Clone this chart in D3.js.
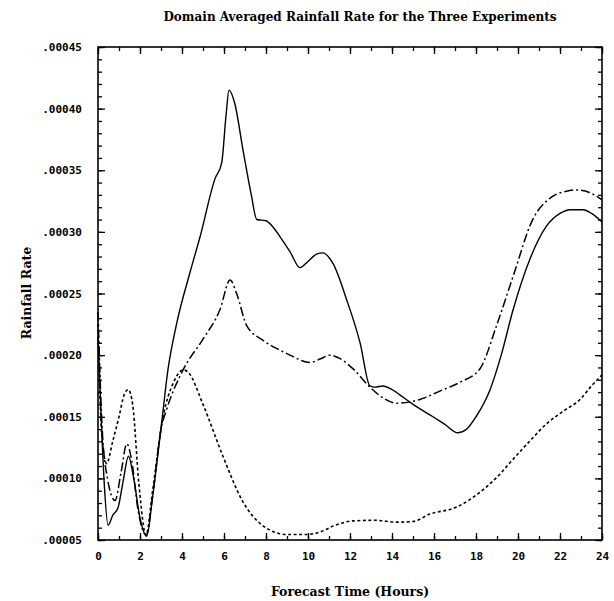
<!DOCTYPE html>
<html><head><meta charset="utf-8">
<script src="https://cdn.jsdelivr.net/npm/d3@7"></script>
<style>body{margin:0;background:#fff}</style>
</head><body>
<svg id="c" width="614" height="601"></svg>
<script>
const title = "Domain Averaged Rainfall Rate for the Three Experiments";
const xLabel = "Forecast Time (Hours)";
const yLabel = "Rainfall Rate";
const xTicks = [0,2,4,6,8,10,12,14,16,18,20,22,24];
const yTicks = [0.00005,0.0001,0.00015,0.0002,0.00025,0.0003,0.00035,0.0004,0.00045];
const yTickLabels = [".00005",".00010",".00015",".00020",".00025",".00030",".00035",".00040",".00045"];

const exp1Hours = [0,0.15,0.3,0.48,0.7,0.95,1.2,1.45,1.7,2.0,2.32,2.6,3.03,3.33,3.75,4.38,4.86,5.57,5.89,6.1,6.24,6.5,6.92,7.3,7.56,8.0,8.33,8.67,9.14,9.62,10.0,10.41,10.7,11.2,11.84,12.48,12.95,13.2,13.57,14.0,14.52,15.0,15.95,16.5,17.14,17.56,18.0,18.67,19.2,19.77,20.57,21.37,22.0,22.48,23.1,23.5,24];
const exp1Rate = [0.000215,0.000150,0.000095,0.000062,0.000070,0.000076,0.000098,0.000118,0.000100,0.000068,0.000053,0.000085,0.000145,0.000188,0.000226,0.000267,0.000296,0.000343,0.000356,0.000395,0.000415,0.000405,0.000365,0.000330,0.000310,0.000309,0.000304,0.000296,0.000284,0.000271,0.000276,0.000282,0.000283,0.000274,0.000245,0.000210,0.000175,0.000174,0.000175,0.000172,0.000166,0.000160,0.000150,0.000144,0.000137,0.000140,0.000150,0.000172,0.000200,0.000237,0.000278,0.000305,0.000315,0.000318,0.000318,0.000315,0.000308];

const exp2Hours = [0,0.2,0.45,0.81,1.1,1.37,1.6,1.9,2.29,2.6,3.0,3.27,4.05,5.0,5.81,6.29,6.6,7.08,7.86,8.67,9.14,10.1,10.6,11.05,11.43,12.2,12.95,13.6,14.22,15.33,16.3,17.24,18.19,18.98,19.77,20.7,21.5,22.3,22.8,23.4,24];
const exp2Rate = [0.000235,0.000140,0.000100,0.000082,0.000105,0.000128,0.000115,0.000075,0.000054,0.000085,0.000140,0.000156,0.000188,0.000213,0.000237,0.000261,0.000250,0.000224,0.000212,0.000204,0.000200,0.000194,0.000197,0.000200,0.000198,0.000188,0.000174,0.000165,0.000161,0.000164,0.000171,0.000178,0.000189,0.000224,0.000264,0.000310,0.000327,0.000333,0.000334,0.000332,0.000326];

const exp3Hours = [0,0.18,0.41,0.7,1.0,1.25,1.44,1.65,1.95,2.29,2.6,3.1,3.6,4.06,4.3,5.0,5.95,6.9,7.86,8.98,9.94,10.57,11.3,12.14,13.2,14.22,15.0,15.8,17.08,18.19,19.0,19.77,20.6,21.37,22.2,22.95,23.5,24];
const exp3Rate = [0.000225,0.000135,0.000112,0.000130,0.000150,0.000168,0.000172,0.000160,0.000095,0.000054,0.000090,0.000150,0.000178,0.000188,0.000186,0.000160,0.000118,0.000081,0.0000615,0.0000545,0.0000545,0.0000565,0.000062,0.0000655,0.000066,0.0000645,0.000065,0.000071,0.0000767,0.0000888,0.000101,0.0001156,0.000131,0.0001445,0.000155,0.000164,0.000175,0.000184];

const svg = d3.select("#c");
const L = 98, R = 602, T = 47, B = 540;
const x = d3.scaleLinear().domain([0,24]).range([L,R]);
const y = d3.scaleLinear().domain([0.00005,0.00045]).range([B,T]);
const monoFont = "'DejaVu Sans Mono', monospace";
const serifFont = "'DejaVu Serif', serif";

const minorX = d3.range(0,25,1);
const minorY = d3.range(0,41).map(i => 0.00005 + i*0.00001);

svg.append("rect").attr("x",L).attr("y",T).attr("width",R-L).attr("height",B-T)
  .attr("fill","none").attr("stroke","#000").attr("stroke-width",1.6);

function inward(axisFn, scale, vals, size, transform){
  const g = svg.append("g").attr("transform",transform)
    .call(axisFn(scale).tickValues(vals).tickSize(size).tickFormat(""));
  g.select(".domain").remove();
  g.selectAll("line").attr("stroke","#000").attr("stroke-width",1.3);
}
inward(d3.axisTop, x, minorX, 4, `translate(0,${B})`);
inward(d3.axisTop, x, xTicks, 7, `translate(0,${B})`);
inward(d3.axisBottom, x, minorX, 4, `translate(0,${T})`);
inward(d3.axisBottom, x, xTicks, 7, `translate(0,${T})`);
inward(d3.axisRight, y, minorY, 4, `translate(${L},0)`);
inward(d3.axisRight, y, yTicks, 7, `translate(${L},0)`);
inward(d3.axisLeft, y, minorY, 4, `translate(${R},0)`);
inward(d3.axisLeft, y, yTicks, 7, `translate(${R},0)`);

svg.append("g").attr("transform",`translate(0,${B})`)
  .call(d3.axisBottom(x).tickValues(xTicks).tickSize(0).tickPadding(12).tickFormat(d3.format("d")))
  .call(g=>{g.select(".domain").remove();
    g.selectAll("text").attr("font-family",monoFont).attr("font-weight","bold").attr("font-size",11).attr("fill","#000");});
svg.append("g").attr("transform",`translate(${L},0)`)
  .call(d3.axisLeft(y).tickValues(yTicks).tickSize(0).tickPadding(16).tickFormat((d,i)=>yTickLabels[i]))
  .call(g=>{g.select(".domain").remove();
    g.selectAll("text").attr("font-family",monoFont).attr("font-weight","bold").attr("font-size",11).attr("fill","#000");});

svg.append("text").attr("x",360).attr("y",21).attr("text-anchor","middle")
  .attr("font-family",serifFont).attr("font-weight","bold").attr("font-size",12).text(title);
svg.append("text").attr("x",350).attr("y",596).attr("text-anchor","middle")
  .attr("font-family",serifFont).attr("font-weight","bold").attr("font-size",12.5).text(xLabel);
svg.append("text").attr("transform","translate(31,293) rotate(-90)").attr("text-anchor","middle")
  .attr("font-family",serifFont).attr("font-weight","bold").attr("font-size",12.5).text(yLabel);

const line = d3.line().x(d=>x(d[0])).y(d=>y(d[1])).curve(d3.curveMonotoneX);
const series = [
  {h:exp1Hours, v:exp1Rate, dash:null, w:1.4},
  {h:exp2Hours, v:exp2Rate, dash:"9,3,2,3", w:1.5},
  {h:exp3Hours, v:exp3Rate, dash:"3,2.5", w:1.6}
];
series.forEach(s=>{
  svg.append("path").datum(s.h.map((hh,i)=>[hh,s.v[i]]))
    .attr("d",line).attr("fill","none").attr("stroke","#000")
    .attr("stroke-width",s.w).attr("stroke-dasharray",s.dash);
});
</script>
</body></html>
